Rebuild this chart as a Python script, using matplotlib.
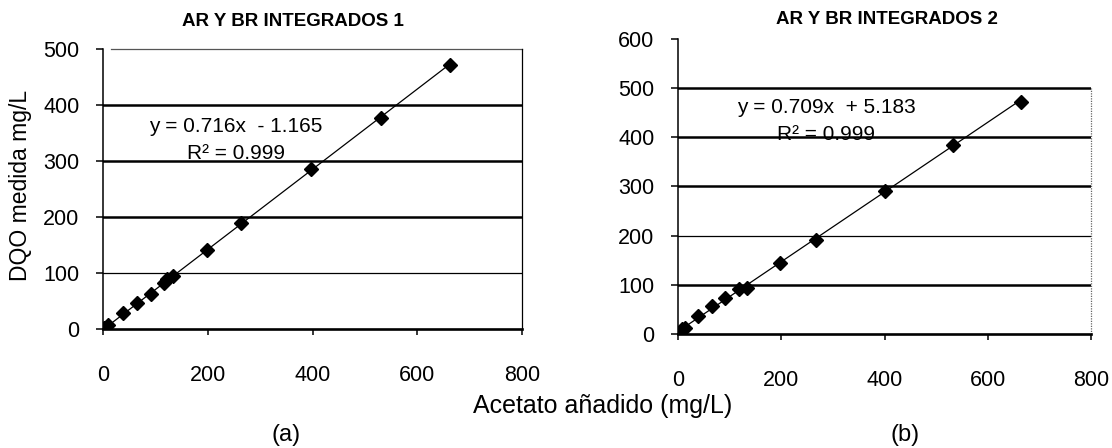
import matplotlib
matplotlib.use("Agg")
import matplotlib.pyplot as plt
import numpy as np

plt.rcParams['font.family'] = ['Liberation Sans', 'DejaVu Sans']

# ---- data ----
x_a = [2, 10, 38, 65, 91, 116, 123, 133, 198, 264, 398, 530, 663]
y_a = [2, 8, 29, 47, 62, 82, 89, 94, 141, 189, 286, 377, 471]
slope_a, icpt_a = 0.716, -1.165

x_b = [7, 14, 38, 65, 92, 119, 133, 198, 267, 400, 533, 664]
y_b = [10, 13, 36, 56, 74, 92, 94, 145, 192, 291, 384, 472]
slope_b, icpt_b = 0.709, 5.183

title_a = "AR Y BR INTEGRADOS 1"
title_b = "AR Y BR INTEGRADOS 2"
eq_a = ["y = 0.716x  - 1.165", "R² = 0.999"]
eq_b = ["y = 0.709x  + 5.183", "R² = 0.999"]
xticks = [0, 200, 400, 600, 800]
yticks_a = [0, 100, 200, 300, 400, 500]
yticks_b = [0, 100, 200, 300, 400, 500, 600]

W, H = 1112, 448
fig = plt.figure(figsize=(W / 100, H / 100), dpi=100)


def frac(px, py):
    return px / W, 1 - py / H


def make_axes(l, r, top, bot):
    return fig.add_axes([l / W, 1 - bot / H, (r - l) / W, (bot - top) / H])


def style(ax, ylim, yticks):
    ax.set_xlim(0, 800)
    ax.set_ylim(*ylim)
    ax.set_xticks(xticks)
    ax.set_yticks(yticks)
    ax.spines['top'].set_visible(False)
    ax.spines['left'].set_linewidth(1.1)
    ax.spines['bottom'].set_linewidth(1.9)
    ax.tick_params(axis='x', direction='out', length=4, width=1.1, pad=22,
                   labelsize=15.5)
    ax.tick_params(axis='y', direction='out', length=5, width=1.1, pad=12,
                   labelsize=15.5)
    ax.patch.set_alpha(0)


# ---- (a) ----
axa = make_axes(103, 522, 49, 329)
style(axa, (0, 500), yticks_a)
for v, lw in [(100, 0.9), (200, 1.8), (300, 1.8), (400, 1.8)]:
    axa.axhline(v, color='black', lw=lw, zorder=1)
axa.plot([15, 800], [500, 500], color='#555555', lw=0.9, zorder=1, clip_on=False)
axa.spines['right'].set_linewidth(0.9)
xa_fit = np.array([min(x_a), max(x_a)])
axa.plot(xa_fit, slope_a * xa_fit + icpt_a, color='black', lw=0.9, zorder=2)
axa.plot(x_a, y_a, linestyle='none', marker='D', ms=7.5, color='black', zorder=3)
axa.text(254, 362, eq_a[0], ha='center', va='center', fontsize=15)
axa.text(254, 314, eq_a[1], ha='center', va='center', fontsize=15)

# ---- (b) ----
axb = make_axes(678, 1091, 39, 334)
style(axb, (0, 600), yticks_b)
for v, lw in [(100, 1.8), (200, 0.9), (300, 1.8), (400, 1.8), (500, 1.8)]:
    axb.axhline(v, color='black', lw=lw, zorder=1)
axb.spines['right'].set_visible(False)
axb.plot([800, 800], [0, 500], color='#666666', lw=0.9, ls=(0, (1, 1)),
         clip_on=False, zorder=1)
xb_fit = np.array([min(x_b), max(x_b)])
axb.plot(xb_fit, slope_b * xb_fit + icpt_b, color='black', lw=0.9, zorder=2)
axb.plot(x_b, y_b, linestyle='none', marker='D', ms=7.5, color='black', zorder=3)
axb.text(287, 460, eq_b[0], ha='center', va='center', fontsize=15)
axb.text(287, 405, eq_b[1], ha='center', va='center', fontsize=15)

# ---- figure texts ----
fig.text(*frac(293, 22), title_a, ha='center', va='center', fontsize=13.5,
         fontweight='bold')
fig.text(*frac(887, 19), title_b, ha='center', va='center', fontsize=13.5,
         fontweight='bold')
fig.text(*frac(21, 185), "DQO medida mg/L", ha='center', va='center',
         rotation=90, fontsize=16.5)
fig.text(*frac(603, 406), "Acetato añadido (mg/L)", ha='center', va='center',
         fontsize=18)
fig.text(*frac(286, 435), "(a)", ha='center', va='center', fontsize=17)
fig.text(*frac(905, 435), "(b)", ha='center', va='center', fontsize=17)

fig.savefig("out.png", dpi=100)
